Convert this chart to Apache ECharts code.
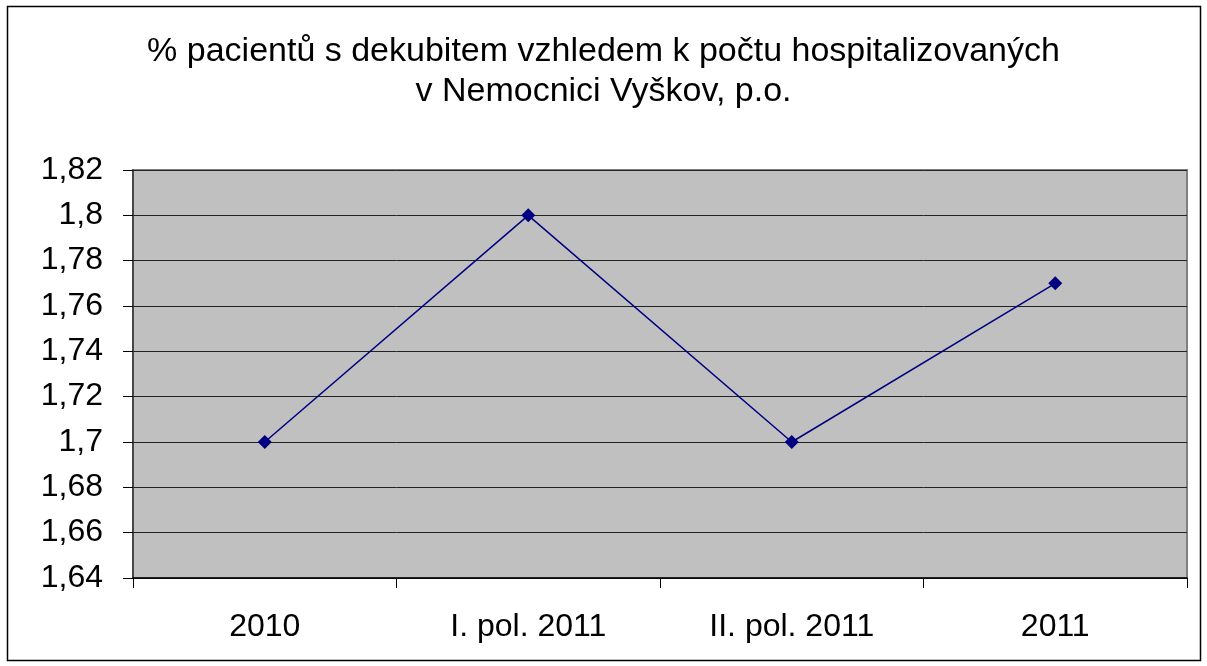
<!DOCTYPE html>
<meta charset="utf-8">
<html style="height: 100%">
<head>
    <title>Dekubity</title>
    <script src="https://cdn.jsdelivr.net/npm/echarts@6/dist/echarts.min.js"></script>
</head>
<body style="height: 100%; margin: 0; background: #fff">
<div id="container" style="width: 1207px; height: 666px"></div>

<script type="text/javascript">

    // data
    let categories = ['2010', 'I. pol. 2011', 'II. pol. 2011', '2011'];
    let values = [1.70, 1.80, 1.70, 1.77];
    let titleLines = ['% pacientů s dekubitem vzhledem k počtu hospitalizovaných', 'v Nemocnici Vyškov, p.o.'];

    let font = '"Liberation Sans", Arial, sans-serif';

    let chart = echarts.init(document.getElementById('container'));

    chart.setOption({
        animation: false,
        backgroundColor: '#ffffff',
        title: {
            text: titleLines.join('\n'),
            left: 'center',
            top: 27,
            textStyle: {
                fontFamily: font,
                fontSize: 34,
                fontWeight: 'normal',
                color: '#000',
                lineHeight: 40
            }
        },
        grid: {
            left: 133, right: 20, top: 170, bottom: 88,
            show: true,
            backgroundColor: '#c0c0c0',
            borderColor: '#808080',
            borderWidth: 2
        },
        graphic: [{
            type: 'rect',
            shape: {x: 7.5, y: 6.5, width: 1193, height: 654},
            style: {fill: 'none', stroke: '#000', lineWidth: 1.5},
            silent: true
        }],
        xAxis: {
            type: 'category',
            data: categories,
            boundaryGap: true,
            axisLine: {lineStyle: {color: '#000', width: 1.5}},
            axisTick: {show: true, length: 10, lineStyle: {color: '#000'}},
            axisLabel: {fontFamily: font, fontSize: 32, color: '#000', margin: 33}
        },
        yAxis: {
            type: 'value',
            min: 1.64,
            max: 1.82,
            interval: 0.02,
            axisLine: {show: true, lineStyle: {color: '#333', width: 1.5}},
            axisTick: {show: true, length: 10, lineStyle: {color: '#000'}},
            splitLine: {lineStyle: {color: '#222', width: 1}},
            axisLabel: {
                fontFamily: font, fontSize: 32, color: '#000', margin: 30,
                formatter: function (v) {
                    return String(Math.round(v * 100) / 100).replace('.', ',');
                }
            }
        },
        series: [{
            type: 'line',
            data: values,
            symbol: 'diamond',
            symbolSize: 14,
            lineStyle: {color: '#000080', width: 1.5},
            itemStyle: {color: '#000080'}
        }]
    });

</script>
</body>
</html>
